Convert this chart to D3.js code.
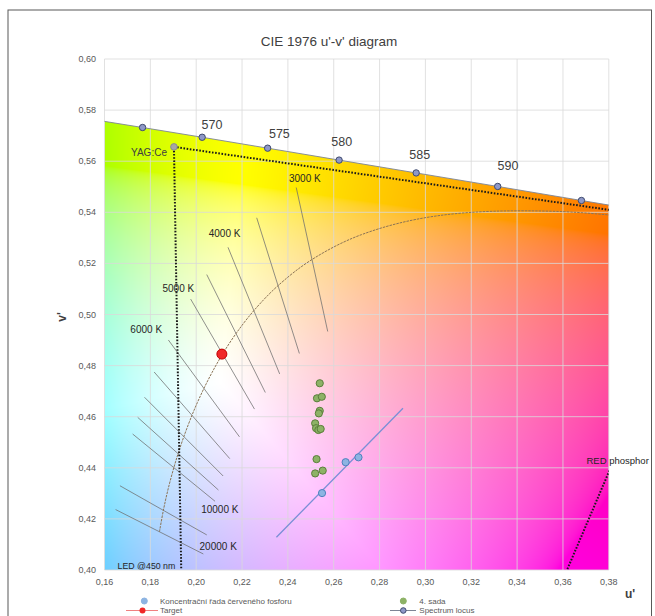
<!DOCTYPE html>
<html><head><meta charset="utf-8">
<script src="https://cdn.jsdelivr.net/npm/d3@7"></script>
<style>body{margin:0;background:#fff;} svg{display:block;font-family:"Liberation Sans",Arial,sans-serif;}</style>
</head><body><svg id="chart" width="655" height="616"></svg>
<script>
// ---------------- data ----------------
const xTicks = [0.16,0.18,0.20,0.22,0.24,0.26,0.28,0.30,0.32,0.34,0.36,0.38];
const xTickLabels = ["0,16","0,18","0,20","0,22","0,24","0,26","0,28","0,30","0,32","0,34","0,36","0,38"];
const yTicks = [0.40,0.42,0.44,0.46,0.48,0.50,0.52,0.54,0.56,0.58,0.60];
const yTickLabels = ["0,40","0,42","0,44","0,46","0,48","0,50","0,52","0,54","0,56","0,58","0,60"];

// spectrum locus (nm, u', v')
const locusNm = [560,565,570,575,580,585,590,595,600];
const locusU = [0.15311,0.17660,0.20260,0.23117,0.26234,0.29596,0.33153,0.36807,0.40347];
const locusV = [0.57658,0.57319,0.56937,0.56510,0.56043,0.55541,0.55012,0.54462,0.53933];
const wlLabels = ["570","575","580","585","590"];
const wlLabelU = [0.2069,0.2363,0.2635,0.2975,0.3360];
const wlLabelV = [0.5744,0.5709,0.5676,0.5628,0.5582];

// Planckian locus
const planckT = [20000,15000,12000,10000,9000,8000,7000,6500,6000,5500,5000,4500,4000,3500,3000,2500,2000,1500,1000];
const planckU = [0.18398,0.18568,0.18777,0.19025,0.19210,0.19461,0.19815,0.20050,0.20337,0.20696,0.21150,0.21738,0.22515,0.23571,0.25052,0.27210,0.30502,0.35799,0.44809];
const planckV = [0.41496,0.42335,0.43175,0.44006,0.44552,0.45220,0.46054,0.46549,0.47107,0.47738,0.48451,0.49255,0.50151,0.51130,0.52152,0.53125,0.53860,0.54033,0.53210];

// isotherms (CCT lines)
const isoT  = [3000,3500,4000,4500,5000,6000,7000,8000,9000,10000,15000,20000];
const isoU1 = [0.24365,0.22640,0.21388,0.20460,0.19758,0.18787,0.18165,0.17745,0.17449,0.17228,0.16674,0.16484];
const isoV1 = [0.54970,0.53785,0.52630,0.51563,0.50604,0.49002,0.47750,0.46761,0.45974,0.45322,0.43297,0.42365];
const isoU2 = [0.25738,0.24502,0.23642,0.23016,0.22543,0.21888,0.21465,0.21177,0.20971,0.20822,0.20462,0.20312];
const isoV2 = [0.49335,0.48474,0.47673,0.46947,0.46298,0.45212,0.44358,0.43679,0.43130,0.42690,0.41373,0.40627];
const cctLabels = ["3000 K","4000 K","5000 K","6000 K","10000 K","20000 K"];
const cctLabelU = [0.2474,0.2124,0.1922,0.1782,0.2103,0.2096];
const cctLabelV = [0.5533,0.5318,0.5100,0.4943,0.4235,0.4091];

// measured series
const sadaU = [0.2539,0.2527,0.2548,0.2539,0.2535,0.2519,0.2523,0.2533,0.2543,0.2525,0.2552,0.2519];
const sadaV = [0.4731,0.4672,0.4678,0.4623,0.4613,0.4574,0.4555,0.4548,0.4552,0.4434,0.4389,0.4378];
const koncU = [0.2549,0.2652,0.2708];
const koncV = [0.4301,0.4422,0.4441];
const trendU = [0.2350,0.2902];
const trendV = [0.4128,0.4633];
const targetU = [0.2112];
const targetV = [0.4845];

// phosphor / LED construction
const ptNames = ["YAG:Ce","RED phosphor","LED @450 nm"];
const ptU = [0.1903,0.4260,0.2000];
const ptV = [0.5656,0.5350,0.0600];

// ---------------- layout ----------------
const svg = d3.select("#chart");
const X0 = 104.5, X1 = 608.8, Y0 = 59, Y1 = 570;
const x = d3.scaleLinear().domain([0.16,0.38]).range([X0,X1]);
const y = d3.scaleLinear().domain([0.40,0.60]).range([Y1,Y0]);

svg.append("rect").attr("x",8).attr("y",10).attr("width",643.5).attr("height",700)
  .attr("fill","#fff").attr("stroke","#595959").attr("stroke-width",1);

const defs = svg.append("defs");
defs.append("clipPath").attr("id","plotClip").append("rect")
  .attr("x",X0).attr("y",Y0).attr("width",X1-X0).attr("height",Y1-Y0);
const locusPts = locusU.map((u,i)=>[u,locusV[i]]);
defs.append("clipPath").attr("id","locusClip").append("path")
  .attr("d", d3.area().x(d=>x(d[0])).y0(y(0.40)+2).y1(d=>y(d[1]))(locusPts));

// chromaticity background
function uvToRgb(u,v){
  const d = 6*u - 16*v + 12;
  const cx = 9*u/d, cy = 4*v/d;
  const X = cx/cy, Y = 1, Z = (1-cx-cy)/cy;
  let r = (3.2406*X - 1.5372*Y - 0.4986*Z)/1.2048;
  let g = (-0.9689*X + 1.8758*Y + 0.0415*Z)/0.9484;
  let b = (0.0557*X - 0.2040*Y + 1.0570*Z)/0.9087;
  r=Math.max(r,0); g=Math.max(g,0); b=Math.max(b,0);
  const m = Math.max(r,g,b);
  const gam = c => { c = c/m; c = c<=0.0031308 ? 12.92*c : 1.055*Math.pow(c,1/2.4)-0.055; return 1-Math.pow(1-c,1.3); };
  return [gam(r)*255, gam(g)*255, gam(b)*255];
}
const W = Math.ceil(X1-X0), H = Math.ceil(Y1-Y0);
const cv = document.createElement("canvas"); cv.width=W; cv.height=H;
const ctx = cv.getContext("2d");
const img = ctx.createImageData(W,H);
for(let j=0;j<H;j++){
  const v = y.invert(Y0+j+0.5);
  for(let i=0;i<W;i++){
    const u = x.invert(X0+i+0.5);
    const c = uvToRgb(u,v);
    const k = (j*W+i)*4;
    img.data[k]=c[0]; img.data[k+1]=c[1]; img.data[k+2]=c[2]; img.data[k+3]=255;
  }
}
ctx.putImageData(img,0,0);
svg.append("g").attr("clip-path","url(#plotClip)")
  .append("image").attr("href",cv.toDataURL()).attr("x",X0).attr("y",Y0)
  .attr("width",W).attr("height",H).attr("preserveAspectRatio","none")
  .attr("clip-path","url(#locusClip)");

// gridlines
const grid = svg.append("g").attr("stroke","#DADADA").attr("stroke-opacity",0.8).attr("stroke-width",1);
grid.selectAll(".gx").data(xTicks).join("line")
  .attr("x1",d=>x(d)).attr("x2",d=>x(d)).attr("y1",Y0).attr("y2",Y1);
grid.selectAll(".gy").data(yTicks).join("line")
  .attr("y1",d=>y(d)).attr("y2",d=>y(d)).attr("x1",X0).attr("x2",X1);

// tick labels
svg.append("g").selectAll("text").data(xTicks).join("text")
  .attr("x",d=>x(d)).attr("y",585).attr("text-anchor","middle")
  .attr("font-size",9).attr("fill","#595959").text((d,i)=>xTickLabels[i]);
svg.append("g").selectAll("text").data(yTicks).join("text")
  .attr("x",96).attr("y",d=>y(d)+3).attr("text-anchor","end")
  .attr("font-size",9).attr("fill","#595959").text((d,i)=>yTickLabels[i]);

const plot = svg.append("g").attr("clip-path","url(#plotClip)");

// isotherms
plot.append("g").selectAll("line").data(isoT).join("line")
  .attr("x1",(d,i)=>x(isoU1[i])).attr("y1",(d,i)=>y(isoV1[i]))
  .attr("x2",(d,i)=>x(isoU2[i])).attr("y2",(d,i)=>y(isoV2[i]))
  .attr("stroke","#6f6f6f").attr("stroke-width",0.9).attr("stroke-opacity",0.85);

// Planckian locus
plot.append("path").datum(planckU.map((u,i)=>[u,planckV[i]]))
  .attr("d",d3.line().x(d=>x(d[0])).y(d=>y(d[1])).curve(d3.curveCatmullRom))
  .attr("fill","none").attr("stroke","#8B7355").attr("stroke-width",1).attr("stroke-dasharray","2.5,1");

// trend line of concentration series
plot.append("path").datum(trendU.map((u,i)=>[u,trendV[i]]))
  .attr("d",d3.line().x(d=>x(d[0])).y(d=>y(d[1])))
  .attr("stroke","#7A8FD6").attr("stroke-width",1.3).attr("fill","none");

// dotted construction lines: YAG -> RED -> LED -> YAG
const tri = [0,1,2,0].map(i=>[ptU[i],ptV[i]]);
plot.append("path").datum(tri)
  .attr("d",d3.line().x(d=>x(d[0])).y(d=>y(d[1])))
  .attr("fill","none").attr("stroke","#1a1a1a").attr("stroke-width",2).attr("stroke-dasharray","1.6,1.6");

// spectrum locus line + markers
plot.append("path").datum(locusPts)
  .attr("d",d3.line().x(d=>x(d[0])).y(d=>y(d[1])))
  .attr("fill","none").attr("stroke","#7D8595").attr("stroke-width",0.9);
plot.append("g").selectAll("circle").data(locusPts).join("circle")
  .attr("cx",d=>x(d[0])).attr("cy",d=>y(d[1])).attr("r",3.2)
  .attr("fill","#8E98C8").attr("stroke","#3F4A6E").attr("stroke-width",1);

// YAG point
plot.append("circle").attr("cx",x(ptU[0])).attr("cy",y(ptV[0])).attr("r",3.3)
  .attr("fill","#A6A6A6").attr("stroke","#8C8C8C").attr("stroke-width",1);

// series points
plot.append("g").selectAll("circle").data(sadaU).join("circle")
  .attr("cx",d=>x(d)).attr("cy",(d,i)=>y(sadaV[i])).attr("r",3.6)
  .attr("fill","#8DB266").attr("stroke","#5A7E3A").attr("stroke-width",1);
plot.append("g").selectAll("circle").data(koncU).join("circle")
  .attr("cx",d=>x(d)).attr("cy",(d,i)=>y(koncV[i])).attr("r",3.6)
  .attr("fill","#8DB4E2").attr("stroke","#4F81BD").attr("stroke-width",1);
plot.append("g").selectAll("circle").data(targetU).join("circle")
  .attr("cx",d=>x(d)).attr("cy",(d,i)=>y(targetV[i])).attr("r",5)
  .attr("fill","#F02828").attr("stroke","#C00000").attr("stroke-width",1);

// labels
svg.append("g").selectAll("text").data(wlLabels).join("text")
  .attr("x",(d,i)=>x(wlLabelU[i])).attr("y",(d,i)=>y(wlLabelV[i])+4.5)
  .attr("text-anchor","middle").attr("font-size",12.5).attr("fill","#404040").text(d=>d);
svg.append("g").selectAll("text").data(cctLabels).join("text")
  .attr("x",(d,i)=>x(cctLabelU[i])).attr("y",(d,i)=>y(cctLabelV[i])+3.5)
  .attr("text-anchor","middle").attr("font-size",10).attr("fill","#262626").text(d=>d);
svg.append("text").attr("x",x(ptU[0])-7).attr("y",y(ptV[0])+9)
  .attr("text-anchor","end").attr("font-size",10).attr("fill","#404040").text(ptNames[0]);
svg.append("text").attr("x",586.5).attr("y",463.5)
  .attr("font-size",9.5).attr("fill","#262626").text(ptNames[1]);
svg.append("text").attr("x",117.5).attr("y",569)
  .attr("font-size",8.8).attr("fill","#262626").text(ptNames[2]);

// title & axis titles
svg.append("text").attr("x",329).attr("y",46).attr("text-anchor","middle")
  .attr("font-size",13.5).attr("fill","#404040").text("CIE 1976 u'-v' diagram");
svg.append("text").attr("transform","translate(66,317) rotate(-90)").attr("text-anchor","middle")
  .attr("font-size",12).attr("font-weight","bold").attr("fill","#404040").text("v'");
svg.append("text").attr("x",630).attr("y",598).attr("text-anchor","middle")
  .attr("font-size",12).attr("font-weight","bold").attr("fill","#404040").text("u'");

// legend
const leg = svg.append("g").attr("font-size",8).attr("fill","#595959");
leg.append("circle").attr("cx",144.3).attr("cy",601).attr("r",3).attr("fill","#8DB4E2").attr("stroke","#8DB4E2");
leg.append("text").attr("x",160).attr("y",603.8).text("Koncentrační řada červeného fosforu");
leg.append("circle").attr("cx",403.3).attr("cy",601).attr("r",3).attr("fill","#8DB266").attr("stroke","#8DB266");
leg.append("text").attr("x",419.3).attr("y",603.8).text("4. sada");
leg.append("line").attr("x1",126).attr("x2",158).attr("y1",610.5).attr("y2",610.5).attr("stroke","#F08080").attr("stroke-width",1);
leg.append("circle").attr("cx",142.5).attr("cy",610.5).attr("r",3).attr("fill","#F02828");
leg.append("text").attr("x",160).attr("y",613.2).text("Target");
leg.append("line").attr("x1",390).attr("x2",416).attr("y1",610.5).attr("y2",610.5).attr("stroke","#7D8595").attr("stroke-width",1);
leg.append("circle").attr("cx",403.3).attr("cy",610.5).attr("r",2.8).attr("fill","#8E98C8").attr("stroke","#3F4A6E");
leg.append("text").attr("x",419.3).attr("y",613.2).text("Spectrum locus");
</script></body></html>
